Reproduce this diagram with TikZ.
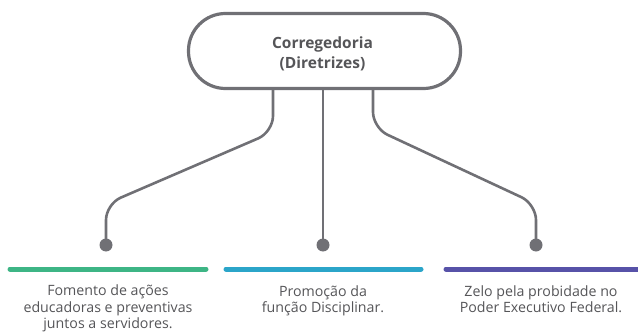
\documentclass[tikz,border=0pt]{standalone}
\usepackage{fontspec}
\setmainfont{Open Sans}
\definecolor{linegray}{HTML}{707075}
\definecolor{txtgray}{HTML}{555558}
\definecolor{cgreen}{HTML}{3DB585}
\definecolor{cblue}{HTML}{2BA5C9}
\definecolor{cpurple}{HTML}{5752A8}
\begin{document}
\begin{tikzpicture}[x=1pt,y=-1pt,
  conn/.style={draw=linegray,line width=2.6pt,rounded corners=16pt},
  dotmark/.style={circle,fill=linegray,inner sep=0pt,minimum size=13pt},
  barline/.style={line width=5pt,line cap=round},
  lbl/.style={align=center,text=txtgray,font=\fontsize{14.2}{16.3}\selectfont,anchor=base}]
\useasboundingbox (0,0) rectangle (638,332);
\node[draw=linegray,line width=3.2pt,rounded corners=37pt,minimum width=272pt,minimum height=75pt] (top) at (324.5,51) {};
\node[align=center,text=txtgray,font=\bfseries\fontsize{15.5}{20}\selectfont,anchor=base] (title) at (322.5,68) {Corregedoria\\(Diretrizes)};
\node[dotmark] (d1) at (106,245) {};
\node[dotmark] (d2) at (323,245) {};
\node[dotmark] (d3) at (536,245) {};
\coordinate (s1) at (273,89);
\coordinate (s2) at (323,89);
\coordinate (s3) at (373,89);
\draw[conn] (s1) -- (273,132) -- (106,204) -- (d1.center);
\draw[conn] (s2) -- (d2.center);
\draw[conn] (s3) -- (373,128) -- (536,204) -- (d3.center);
\coordinate (g1) at (10,269); \coordinate (g2) at (206,269);
\coordinate (b1) at (226,269); \coordinate (b2) at (421,269);
\coordinate (p1) at (446,269); \coordinate (p2) at (638,269);
\draw[barline,cgreen] (g1) -- (g2);
\draw[barline,cblue] (b1) -- (b2);
\draw[barline,cpurple] (p1) -- (p2);
\node[lbl] (t1) at (108,328.4) {Fomento de ações\\educadoras e preventivas\\juntos a servidores.};
\node[lbl] (t2) at (323,312.4) {Promoção da\\função Disciplinar.};
\node[lbl] (t3) at (541,312.4) {Zelo pela probidade no\\Poder Executivo Federal.};
\end{tikzpicture}
\end{document}
